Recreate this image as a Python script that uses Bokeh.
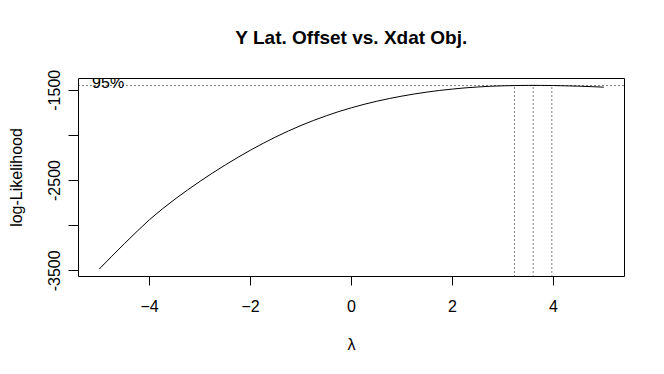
import math
from bokeh.plotting import figure
from bokeh.models import Range1d, FixedTicker, Span, Label, LinearAxis
from bokeh.embed import file_html
from bokeh.resources import INLINE

# profile log-likelihood
lambdas = [-5.00, -4.75, -4.50, -4.25, -4.00, -3.75, -3.50, -3.25, -3.00, -2.75,
           -2.50, -2.25, -2.00, -1.75, -1.50, -1.25, -1.00, -0.75, -0.50, -0.25,
           0.00, 0.25, 0.50, 0.75, 1.00, 1.25, 1.50, 1.75, 2.00, 2.25,
           2.50, 2.75, 3.00, 3.25, 3.50, 3.75, 4.00, 4.25, 4.50, 4.75, 5.00]
loglik = [-3481, -3339, -3199, -3063, -2932, -2815, -2707, -2605, -2508, -2415,
          -2327, -2243, -2163, -2088, -2017, -1951, -1890, -1834, -1783, -1736,
          -1694, -1656, -1622, -1592, -1565, -1541, -1520, -1502, -1487, -1474,
          -1464, -1456, -1451, -1448, -1446.3, -1446.5, -1448, -1451, -1455, -1460, -1466]

ci_lambdas = [3.23, 3.60, 3.97]
ci_level = -1448
level_label = "95%"
title_text = "Y Lat. Offset vs. Xdat Obj."

x_ticks = [-4, -2, 0, 2, 4]
y_ticks = [-3500, -3000, -2500, -2000, -1500]
y_tick_labels = {-3500: "-3500", -3000: "", -2500: "-2500", -2000: "", -1500: "-1500"}

FONT = "Liberation Sans"

x_lo, x_hi = -5.41, 5.41
y_lo, y_hi = -3563, -1370

p = figure(width=648, height=358, output_backend="svg", toolbar_location=None,
           x_range=Range1d(x_lo, x_hi), y_range=Range1d(y_lo, y_hi),
           min_border_left=78, min_border_right=24, min_border_top=78, min_border_bottom=82)
p.background_fill_color = "white"
p.border_fill_color = "white"
p.outline_line_color = "black"
p.outline_line_width = 1
p.grid.visible = False

xax = p.below[0]
yax = p.left[0]

# curve
p.line(lambdas, loglik, line_color="black", line_width=1)

# 95% level line
p.add_layout(Span(location=ci_level, dimension="width", line_color="black",
                  line_width=1, line_dash="1 3"))
# vertical CI lines
p.segment(x0=ci_lambdas, y0=[y_lo] * len(ci_lambdas), x1=ci_lambdas,
          y1=[ci_level] * len(ci_lambdas), line_color="black", line_width=1, line_dash="1 3")

p.add_layout(Label(x=-5.14, y=ci_level, y_offset=3, text=level_label, text_font=FONT,
                   text_font_size="16px", text_color="black", text_align="left",
                   text_baseline="alphabetic", level="overlay"))

# axes
for ax in (xax, yax):
    ax.axis_line_color = None
    ax.major_tick_in = 0
    ax.major_tick_out = 9
    ax.major_tick_line_color = "black"
    ax.minor_tick_line_color = None
    ax.major_label_text_font = FONT
    ax.major_label_text_font_size = "16px"
    ax.major_label_text_color = "black"
    ax.axis_label_text_font = FONT
    ax.axis_label_text_font_size = "16px"
    ax.axis_label_text_font_style = "normal"
    ax.axis_label_text_color = "black"

xax.ticker = FixedTicker(ticks=x_ticks)
xax.axis_label = "λ"
xax.major_label_standoff = 14
xax.axis_label_standoff = 21

yax.ticker = FixedTicker(ticks=y_ticks)
yax.major_label_overrides = y_tick_labels
yax.major_label_orientation = "vertical"
yax.axis_label = "log-Likelihood"
yax.major_tick_out = 10
yax.major_label_standoff = 8
yax.axis_label_standoff = 21

# title: carried by a tick-less axis above the frame
title_axis = LinearAxis(ticker=FixedTicker(ticks=[]), axis_label=title_text)
title_axis.axis_line_color = None
title_axis.major_tick_line_color = None
title_axis.minor_tick_line_color = None
title_axis.major_tick_in = 0
title_axis.major_tick_out = 0
title_axis.major_label_standoff = 0
title_axis.major_label_text_font_size = "0px"
title_axis.axis_label_text_font = FONT
title_axis.axis_label_text_font_size = "19px"
title_axis.axis_label_text_font_style = "bold"
title_axis.axis_label_text_color = "black"
title_axis.axis_label_standoff = 31
p.add_layout(title_axis, "above")

open("out.html", "w").write(file_html(p, INLINE))
